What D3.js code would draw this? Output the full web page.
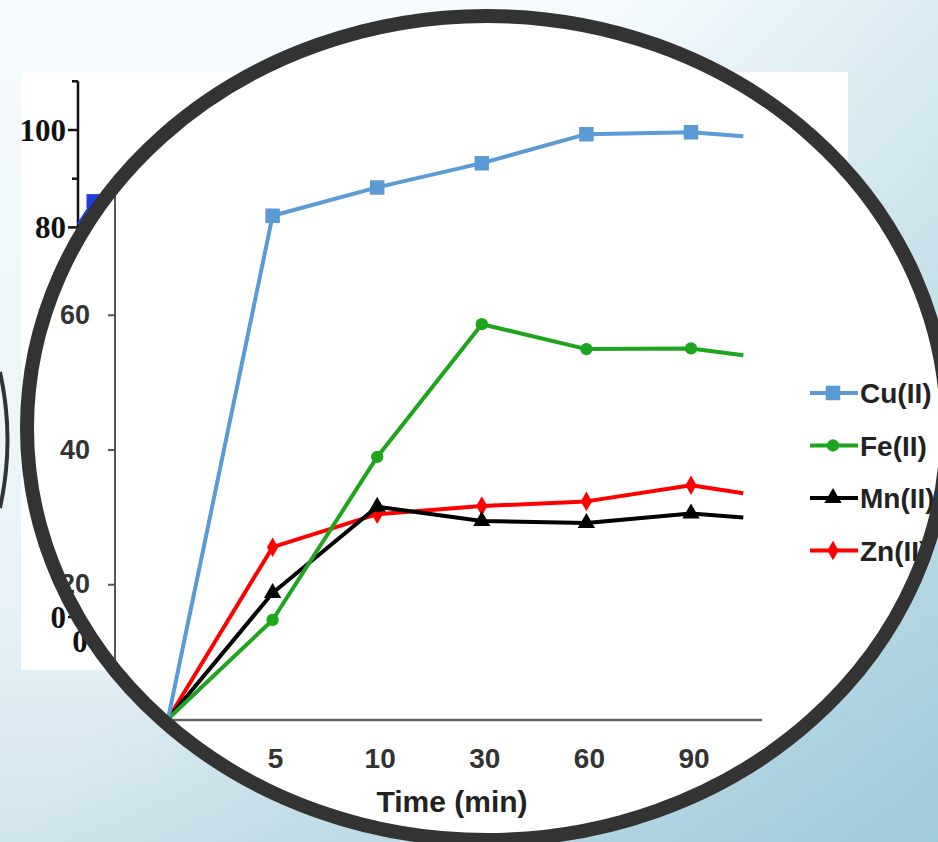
<!DOCTYPE html>
<html>
<head>
<meta charset="utf-8">
<script src="https://cdn.jsdelivr.net/npm/d3@7"></script>
<style>
  body { margin: 0; overflow: hidden; background: #f5fbfd; }
  svg { display: block; }
</style>
</head>
<body>
<div id="chart"></div>
<script>
// inner (magnified) chart
const timeLabels = ['0', '5', '10', '30', '60', '90'];
const cuValues = [0, 74.7, 78.9, 82.5, 86.8, 87.1];
const feValues = [0, 14.7, 38.9, 58.6, 54.9, 55.0];
const mnValues = [0, 18.7, 31.5, 29.4, 29.1, 30.5];
const znValues = [0, 25.5, 30.4, 31.6, 32.3, 34.7];
// where each line is cut off, half a step after 90
const tailValues = [86.5, 54.0, 29.9, 33.5];
const seriesNames = ['Cu(II)', 'Fe(II)', 'Mn(II)', 'Zn(II)'];
const yTicks = [0, 20, 40, 60, 80];

// chart behind the circle (only what peeks out)
const backTicks = [0, 20, 40, 60, 80, 100];
const backMinor = [10, 30, 50, 70, 90, 110];
const backLabels = [0, 80, 100];
const backXLabels = ['0'];
const backCu = [80.6, 85.4];

const W = 938, H = 842;
const ell = {cx: 487, cy: 428, rx: 460, ry: 412};

const svg = d3.select('#chart').append('svg')
    .attr('width', W)
    .attr('height', H);

const defs = svg.append('defs');
const bg = defs.append('linearGradient').attr('id', 'bg')
    .attr('x1', 0).attr('y1', 0).attr('x2', 0).attr('y2', 1);
bg.append('stop').attr('offset', '0%').attr('stop-color', '#f6fbfd');
bg.append('stop').attr('offset', '70%').attr('stop-color', '#e9f3f7');
bg.append('stop').attr('offset', '100%').attr('stop-color', '#d0e4ec');
const bg2 = defs.append('linearGradient').attr('id', 'bg2')
    .attr('x1', 0.3).attr('y1', 0.55).attr('x2', 1).attr('y2', 1);
bg2.append('stop').attr('offset', '0%').attr('stop-color', '#8fc2d4').attr('stop-opacity', 0);
bg2.append('stop').attr('offset', '100%').attr('stop-color', '#8fc2d4').attr('stop-opacity', 0.75);

defs.append('clipPath').attr('id', 'lens')
  .append('ellipse')
    .attr('cx', ell.cx).attr('cy', ell.cy)
    .attr('rx', ell.rx).attr('ry', ell.ry);

svg.append('rect').attr('width', W).attr('height', H).attr('fill', 'url(#bg)');
svg.append('rect').attr('width', W).attr('height', H).attr('fill', 'url(#bg2)');

// dark arc at the far left edge of the slide
svg.append('path')
    .attr('d', 'M0,372 Q15,440 0,508')
    .attr('fill', 'none')
    .attr('stroke', '#333')
    .attr('stroke-width', 4);

// ---- chart behind ----
svg.append('rect')
    .attr('x', 21).attr('y', 72)
    .attr('width', 827).attr('height', 598)
    .attr('fill', '#ffffff');

const backY = d3.scaleLinear().domain([0, 100]).range([617, 130]);
const backX = d3.scaleLinear().domain([0, 1]).range([78, 93.5]);

const back = svg.append('g')
    .attr('font-family', '"Liberation Serif", "Times New Roman", serif')
    .attr('font-weight', 'bold');

back.append('line')
    .attr('x1', 78).attr('x2', 78)
    .attr('y1', backY(110)).attr('y2', backY(0))
    .attr('stroke', '#111').attr('stroke-width', 2.5);

back.selectAll('.major').data(backTicks).enter().append('line')
    .attr('x1', 68).attr('x2', 78)
    .attr('y1', d => backY(d)).attr('y2', d => backY(d))
    .attr('stroke', '#111').attr('stroke-width', 2.5);
back.selectAll('.minor').data(backMinor).enter().append('line')
    .attr('x1', 72).attr('x2', 78)
    .attr('y1', d => backY(d)).attr('y2', d => backY(d))
    .attr('stroke', '#111').attr('stroke-width', 2.5);

back.selectAll('.blab').data(backLabels).enter().append('text')
    .attr('x', 66)
    .attr('y', d => backY(d))
    .attr('dy', '0.35em')
    .attr('text-anchor', 'end')
    .attr('font-size', 31)
    .attr('fill', '#111')
    .text(d => d);

back.selectAll('.bxlab').data(backXLabels).enter().append('text')
    .attr('x', 80).attr('y', 652)
    .attr('text-anchor', 'middle')
    .attr('font-size', 31)
    .attr('fill', '#111')
    .text(d => d);

back.append('path')
    .datum(backCu)
    .attr('fill', 'none')
    .attr('stroke', '#1d3fe0')
    .attr('stroke-width', 3)
    .attr('d', d3.line().x((d, i) => backX(i)).y(d => backY(d)));
back.append('rect')
    .attr('x', backX(1) - 7).attr('y', backY(backCu[1]) - 7)
    .attr('width', 14).attr('height', 14)
    .attr('fill', '#1d3fe0');

// ---- magnifier ----
svg.append('ellipse')
    .attr('cx', ell.cx).attr('cy', ell.cy)
    .attr('rx', ell.rx).attr('ry', ell.ry)
    .attr('fill', '#ffffff');

const lens = svg.append('g')
    .attr('clip-path', 'url(#lens)')
    .attr('font-family', '"Liberation Sans", Arial, sans-serif')
    .attr('font-weight', 'bold');

const x = d3.scalePoint().domain(timeLabels).range([168, 691]);
const y = d3.scaleLinear().domain([0, 80]).range([719, 180]);
const step = x.step();

const yAxis = d3.axisLeft(y).tickValues(yTicks).tickSize(7).tickSizeOuter(0).tickPadding(18);
const gy = lens.append('g')
    .attr('transform', 'translate(115,0)')
    .call(yAxis);
gy.select('.domain').attr('stroke', '#555').attr('stroke-width', 2)
    .attr('d', 'M0,' + y(0) + 'V' + (y(80) - 120));
gy.selectAll('.tick line').attr('stroke', '#555').attr('stroke-width', 2);
gy.selectAll('.tick text')
    .attr('font-size', 27)
    .attr('font-family', '"Liberation Sans", Arial, sans-serif')
    .attr('font-weight', 'bold')
    .attr('fill', '#333');

// x axis baseline and labels
lens.append('line')
    .attr('x1', x('0')).attr('x2', x('90') + step * 0.68)
    .attr('y1', y(0) + 1).attr('y2', y(0) + 1)
    .attr('stroke', '#666').attr('stroke-width', 2.5);

lens.selectAll('.xlab').data(timeLabels.slice(1)).enter().append('text')
    .attr('x', d => x(d) + 3)
    .attr('y', 768)
    .attr('text-anchor', 'middle')
    .attr('font-size', 28)
    .attr('fill', '#333')
    .text(d => d);

lens.append('text')
    .attr('x', 452).attr('y', 812)
    .attr('text-anchor', 'middle')
    .attr('font-size', 30)
    .attr('fill', '#222')
    .text('Time (min)');

const series = [
  {name: seriesNames[0], values: cuValues, tail: tailValues[0], color: '#5b9bd5', symbol: d3.symbolSquare, size: 210},
  {name: seriesNames[1], values: feValues, tail: tailValues[1], color: '#1ea51e', symbol: d3.symbolCircle, size: 120},
  {name: seriesNames[2], values: mnValues, tail: tailValues[2], color: '#000000', symbol: d3.symbolTriangle, size: 130},
  {name: seriesNames[3], values: znValues, tail: tailValues[3], color: '#ff0000', symbol: d3.symbolDiamond, size: 110}
];

const line = d3.line().x(d => d[0]).y(d => d[1]);

// drawn Zn first so Mn/Fe/Cu sit over it
series.slice().reverse().forEach(s => {
  const pts = s.values.map((v, i) => [x(timeLabels[i]), y(v)]);
  pts.push([x('90') + step / 2, y(s.tail)]);
  lens.append('path')
      .attr('d', line(pts))
      .attr('fill', 'none')
      .attr('stroke', s.color)
      .attr('stroke-width', 4)
      .attr('stroke-linejoin', 'round');
  lens.selectAll(null).data(s.values.slice(1)).enter().append('path')
      .attr('transform', (d, i) => 'translate(' + x(timeLabels[i + 1]) + ',' + y(d) + ')')
      .attr('d', d3.symbol().type(s.symbol).size(s.size))
      .attr('fill', s.color);
});

// legend
const legend = lens.append('g').attr('transform', 'translate(810,393)');
series.forEach((s, i) => {
  const g = legend.append('g').attr('transform', 'translate(0,' + (i * 52.5) + ')');
  g.append('line').attr('x1', 0).attr('x2', 48)
      .attr('stroke', s.color).attr('stroke-width', 4);
  g.append('path')
      .attr('transform', 'translate(23,0)')
      .attr('d', d3.symbol().type(s.symbol).size(s.size))
      .attr('fill', s.color);
  g.append('text')
      .attr('x', 50).attr('dy', '0.36em')
      .attr('font-size', 28)
      .attr('fill', '#222')
      .text(s.name);
});

// lens rim
svg.append('ellipse')
    .attr('cx', ell.cx).attr('cy', ell.cy)
    .attr('rx', ell.rx).attr('ry', ell.ry)
    .attr('fill', 'none')
    .attr('stroke', '#333333')
    .attr('stroke-width', 14);
</script>
</body>
</html>
